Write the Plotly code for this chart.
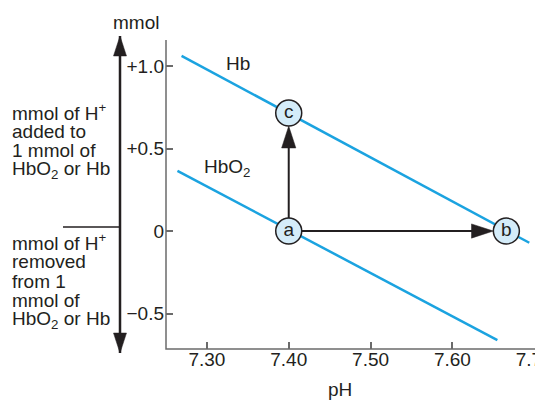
import plotly.graph_objects as go

# Lines (pH, mmol of H+)
hb_ph = [7.269, 7.694]
hb_mmol = [1.062, -0.071]
hbo2_ph = [7.264, 7.655]
hbo2_mmol = [0.365, -0.661]

# Labelled states
point_labels = ['a', 'b', 'c']
point_ph = [7.40, 7.666, 7.40]
point_mmol = [0.0, 0.0, 0.715]

x_ticks = [7.30, 7.40, 7.50, 7.60, 7.70]
x_tick_labels = ['7.30', '7.40', '7.50', '7.60', '7.70']
y_ticks = [1.0, 0.5, 0.0, -0.5]
y_tick_labels = ['+1.0', '+0.5', '0', '\u22120.5']

added_lines = ['mmol of H<sup>+</sup>', 'added to', '1 mmol of', 'HbO<sub>2</sub> or Hb']
removed_lines = ['mmol of H<sup>+</sup>', 'removed', 'from 1', 'mmol of', 'HbO<sub>2</sub> or Hb']

# window geometry in pixels; the page body adds an 8px margin
BODY = 8
WIN_W, WIN_H = 543, 400
W, H = WIN_W - BODY, WIN_H - BODY
PLOT_LEFT, PLOT_RIGHT = 166, 535
PLOT_TOP, PLOT_BOTTOM = 40, 349
Y_RANGE = [-0.715, 1.158]
X_RANGE = [7.25, 7.701]

FONT = 'Liberation Sans, Arial, Helvetica, sans-serif'
TEXT = '#231f20'
AXIS = '#6b6b6b'
BLUE = '#1ba3e0'
FS = 19

fig = go.Figure()

# axis frame (left and bottom), on the window-pixel overlay
fig.add_trace(go.Scatter(
    x=[PLOT_LEFT, PLOT_LEFT, PLOT_RIGHT], y=[PLOT_TOP, PLOT_BOTTOM, PLOT_BOTTOM],
    xaxis='x2', yaxis='y2', mode='lines',
    line=dict(color=AXIS, width=1.5), hoverinfo='skip'))

fig.add_trace(go.Scatter(x=hb_ph, y=hb_mmol, mode='lines',
                         line=dict(color=BLUE, width=2.5), hoverinfo='skip'))
fig.add_trace(go.Scatter(x=hbo2_ph, y=hbo2_mmol, mode='lines',
                         line=dict(color=BLUE, width=2.5), hoverinfo='skip'))

# a -> c and a -> b arrows
for end in [2, 1]:
    fig.add_trace(go.Scatter(
        x=[point_ph[0], point_ph[end]], y=[point_mmol[0], point_mmol[end]],
        mode='lines+markers',
        line=dict(color=TEXT, width=2),
        marker=dict(symbol='arrow', size=[0, 23], angleref='previous',
                    standoff=13, color=TEXT, opacity=1,
                    line=dict(color=TEXT, width=0.5)),
        hoverinfo='skip'))

# state circles
fig.add_trace(go.Scatter(
    x=point_ph, y=point_mmol, mode='markers+text',
    text=point_labels, textposition='middle center',
    textfont=dict(family=FONT, size=FS, color=TEXT),
    marker=dict(size=26, color='#d4ecf9', line=dict(color=TEXT, width=1.5)),
    hoverinfo='skip'))

# big double arrow and divider left of the axis
fig.add_trace(go.Scatter(
    x=[120, 120], y=[36, 353], xaxis='x2', yaxis='y2',
    mode='lines+markers',
    line=dict(color=TEXT, width=2.5),
    marker=dict(symbol='arrow', size=21, angle=[0, 180], color=TEXT,
                line=dict(color=TEXT, width=0.5)),
    hoverinfo='skip'))
fig.add_trace(go.Scatter(
    x=[63, 119], y=[227, 227], xaxis='x2', yaxis='y2',
    mode='lines', line=dict(color=TEXT, width=1.5), hoverinfo='skip'))

annotations = []


def label(text, px, py, xanchor='left'):
    annotations.append(dict(text=text, x=px, y=py, xref='x2', yref='y2',
                            xanchor=xanchor, yanchor='middle', showarrow=False,
                            font=dict(family=FONT, size=FS, color=TEXT)))


for i, line in enumerate(added_lines):
    label(line, 10, 112 + i * 19.3)
for i, line in enumerate(removed_lines):
    label(line, 10, 242 + i * 19.5)

label('mmol', 136, 22, xanchor='center')
label('Hb', 238, 63, xanchor='center')
label('HbO<sub>2</sub>', 227, 168, xanchor='center')
label('pH', 340, 389, xanchor='center')

tick_style = dict(ticks='inside', ticklen=7, tickcolor=AXIS, tickwidth=1.5,
                  showline=False, showgrid=False, zeroline=False, automargin=False,
                  ticklabeloverflow='allow',
                  tickfont=dict(family=FONT, size=FS, color=TEXT))

fig.update_layout(
    width=W, height=H,
    margin=dict(l=0, r=0, t=0, b=0, pad=0),
    template='none',
    plot_bgcolor='rgba(0,0,0,0)', paper_bgcolor='white',
    showlegend=False,
    font=dict(family=FONT, size=FS, color=TEXT),
    annotations=annotations,
    xaxis=dict(domain=[(PLOT_LEFT - BODY) / W, (PLOT_RIGHT - BODY) / W],
               range=X_RANGE, anchor='y',
               tickvals=x_ticks, ticktext=x_tick_labels, ticklabelstandoff=-3,
               **tick_style),
    yaxis=dict(domain=[(WIN_H - PLOT_BOTTOM) / H, (WIN_H - PLOT_TOP) / H],
               range=Y_RANGE, anchor='x',
               tickvals=y_ticks, ticktext=y_tick_labels, ticklabelstandoff=1,
               **tick_style),
    xaxis2=dict(domain=[0, 1], range=[BODY, WIN_W], anchor='y2',
                visible=False, fixedrange=True),
    yaxis2=dict(domain=[0, 1], range=[WIN_H, BODY], anchor='x2',
                visible=False, fixedrange=True),
)

fig.write_html('out.html')
